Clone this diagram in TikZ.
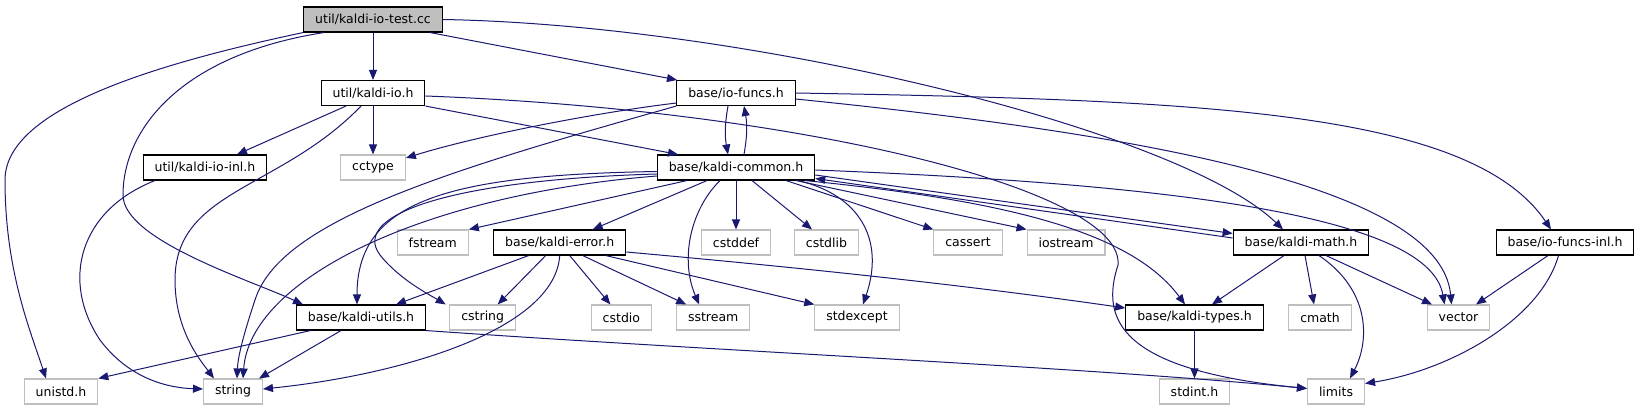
\documentclass[tikz,border=0pt]{standalone}
\usepackage{fontspec}
\setmainfont{DejaVu Sans}
\usetikzlibrary{arrows.meta}
\definecolor{edgeblue}{HTML}{191970}
\definecolor{boxgray}{HTML}{BFBFBF}

\begin{document}
\begin{tikzpicture}[x=1pt,y=-1pt,
  hdr/.style={draw=black,line width=1.1pt,minimum height=25pt,inner xsep=11.5pt,inner ysep=0pt,font=\fontsize{12.5}{15}\selectfont},
  sys/.style={hdr,draw=boxgray},
  root/.style={hdr,fill=boxgray},
  inc/.style={draw=edgeblue,line width=1pt,-{Triangle[length=10pt,width=8pt]},fill=none}]
\useasboundingbox (0,0) rectangle (1640,411);
% files
\node[root] (test) at (373,19.5) {util/kaldi-io-test.cc};
\node[hdr] (kio) at (373,93) {util/kaldi-io.h};
\node[hdr] (iof) at (736,93) {base/io-funcs.h};
\node[hdr] (kioinl) at (205,167.5) {util/kaldi-io-inl.h};
\node[sys] (cctype) at (373,167.5) {cctype};
\node[hdr] (kcommon) at (736,167.5) {base/kaldi-common.h};
\node[sys] (fstream) at (432.7,242.5) {fstream};
\node[hdr] (kerror) at (559.7,242.5) {base/kaldi-error.h};
\node[sys] (cstddef) at (736,242.5) {cstddef};
\node[sys] (cstdlib) at (826.5,242.5) {cstdlib};
\node[sys] (cassert) at (968,242.5) {cassert};
\node[sys] (iostream) at (1066,242.5) {iostream};
\node[hdr] (kmath) at (1301,242.5) {base/kaldi-math.h};
\node[hdr] (iofinl) at (1565,242.5) {base/io-funcs-inl.h};
\node[hdr] (kutils) at (361,317.5) {base/kaldi-utils.h};
\node[sys] (cstring) at (482.7,317.5) {cstring};
\node[sys] (cstdio) at (621.4,317.5) {cstdio};
\node[sys] (sstream) at (713.2,317.5) {sstream};
\node[sys] (stdexcept) at (857,317.5) {stdexcept};
\node[hdr] (ktypes) at (1194.5,317.5) {base/kaldi-types.h};
\node[sys] (cmath) at (1320,317.5) {cmath};
\node[sys] (vector) at (1458.5,317.5) {vector};
\node[sys] (unistd) at (61,391.5) {unistd.h};
\node[sys] (string) at (233,391.5) {string};
\node[sys] (stdint) at (1194.5,391.5) {stdint.h};
\node[sys] (limits) at (1336,391.5) {limits};
% util/kaldi-io-test.cc
\draw[inc] (test) -- (kio);
\draw[inc] ([xshift=57]test.south) -- ([xshift=-59]iof.north);
\draw[inc] (test.east) .. controls (750,25) and (1180,130) .. ([xshift=-18]kmath.north);
\draw[inc] ([xshift=-49]test.south) .. controls (180,55) and (123,130) .. (123,195) .. controls (123,240) and (250,280) .. ([xshift=-58]kutils.north);
\draw[inc] (test.south west) .. controls (150,65) and (5,110) .. (5,180) .. controls (5,270) and (30,330) .. ([xshift=-15]unistd.north);
% util/kaldi-io.h
\draw[inc] ([xshift=-27]kio.south) -- ([xshift=32]kioinl.north);
\draw[inc] (kio) -- (cctype);
\draw[inc] ([xshift=-12]kio.south) .. controls (280,190) and (175,190) .. (175,280) .. controls (175,330) and (200,360) .. ([xshift=-19]string.north);
\draw[inc] (kio.south east) -- ([xshift=-58]kcommon.north);
\draw[inc] ([yshift=-3]kio.east) .. controls (800,110) and (1125,190) .. (1118,265) .. controls (1100,320) and (1120,370) .. ([yshift=3]limits.west);
\draw[inc] ([xshift=-50]kioinl.south) .. controls (80,210) and (60,280) .. (100,340) .. controls (130,380) and (170,388) .. ([yshift=2.5]string.west);
% base/io-funcs.h
\draw[inc] ([yshift=3]iof.south west) .. controls (600,112) and (480,135) .. ([yshift=9.5]cctype.east);
\draw[inc] (iof.south west) .. controls (450,170) and (280,220) .. (255,300) .. controls (245,330) and (238,355) .. ([xshift=4]string.north);
\draw[inc] ([xshift=-8]iof.south) to[bend right=10] ([xshift=-8]kcommon.north);
\draw[inc] ([yshift=-6]iof.east) .. controls (1100,130) and (1440,180) .. ([xshift=-7]vector.north);
\draw[inc] (iof.east) .. controls (1200,100) and (1470,110) .. ([xshift=-14]iofinl.north);
% base/kaldi-common.h
\draw[inc] ([xshift=8]kcommon.north) to[bend right=10] ([xshift=8]iof.south);
\draw[inc] ([xshift=-49]kcommon.south) -- (fstream.north east);
\draw[inc] ([xshift=-29]kcommon.south) -- ([xshift=33]kerror.north);
\draw[inc] ([yshift=-4]kcommon.west) .. controls (450,175) and (357,200) .. ([xshift=-4]kutils.north);
\draw[inc] ([yshift=-6.5]kcommon.west) .. controls (450,180) and (350,215) .. (380,255) .. controls (400,280) and (430,295) .. ([xshift=-37]cstring.north);
\draw[inc] ([yshift=-8.5]kcommon.west) .. controls (420,195) and (250,280) .. ([xshift=10]string.north);
\draw[inc] ([xshift=-16]kcommon.south) .. controls (690,210) and (680,260) .. ([xshift=-14]sstream.north);
\draw[inc] (kcommon) -- (cstddef);
\draw[inc] ([xshift=16]kcommon.south) -- ([xshift=-14.5]cstdlib.north);
\draw[inc] ([xshift=62]kcommon.south) .. controls (860,195) and (885,240) .. ([xshift=6]stdexcept.north);
\draw[inc] ([xshift=50]kcommon.south) -- (cassert.north west);
\draw[inc] ([xshift=60]kcommon.south) -- (iostream.north west);
\draw[inc] ([yshift=-7.5]kcommon.east) -- ([yshift=9]kmath.west);
\draw[inc] ([xshift=69]kcommon.south) .. controls (1000,200) and (1130,230) .. ([xshift=-9.5]ktypes.north);
\draw[inc] ([yshift=-2.5]kcommon.east) .. controls (1200,185) and (1430,220) .. ([xshift=-14]vector.north);
% base/kaldi-math.h
\draw[inc] ([yshift=4.5]kmath.west) -- ([yshift=-11]kcommon.east);
\draw[inc] ([xshift=-17]kmath.south) -- ([xshift=17.5]ktypes.north);
\draw[inc] ([xshift=4]kmath.south) -- ([xshift=-6]cmath.north);
\draw[inc] ([xshift=18]kmath.south) .. controls (1370,290) and (1370,340) .. ([xshift=14]limits.north);
\draw[inc] ([xshift=25]kmath.south) -- ([xshift=-26.5]vector.north);
% base/kaldi-error.h
\draw[inc] ([xshift=-31]kerror.south) -- ([xshift=35]kutils.north);
\draw[inc] ([xshift=-14]kerror.south) -- ([xshift=15]cstring.north);
\draw[inc] ([xshift=10]kerror.south) -- ([xshift=-11]cstdio.north);
\draw[inc] ([xshift=23]kerror.south) -- ([xshift=-27]sstream.north);
\draw[inc] ([xshift=46]kerror.south) -- (stdexcept.north west);
\draw[inc] (kerror.south) .. controls (555,330) and (400,375) .. ([yshift=2.5]string.east);
\draw[inc] ([yshift=-9.5]kerror.east) .. controls (850,272) and (1000,290) .. ([yshift=9.5]ktypes.west);
% base/kaldi-utils.h, base/kaldi-types.h, base/io-funcs-inl.h
\draw[inc] ([xshift=-50.5]kutils.south) -- (unistd.north east);
\draw[inc] ([xshift=-20]kutils.south) -- ([xshift=26]string.north);
\draw[inc] (kutils.south east) .. controls (700,350) and (1100,368) .. ([yshift=3]limits.west);
\draw[inc] (ktypes) -- (stdint);
\draw[inc] ([xshift=-17]iofinl.south) -- ([xshift=17.5]vector.north);
\draw[inc] ([xshift=-6.5]iofinl.south) .. controls (1540,320) and (1450,370) .. ([yshift=8]limits.east);
\end{tikzpicture}
\end{document}
